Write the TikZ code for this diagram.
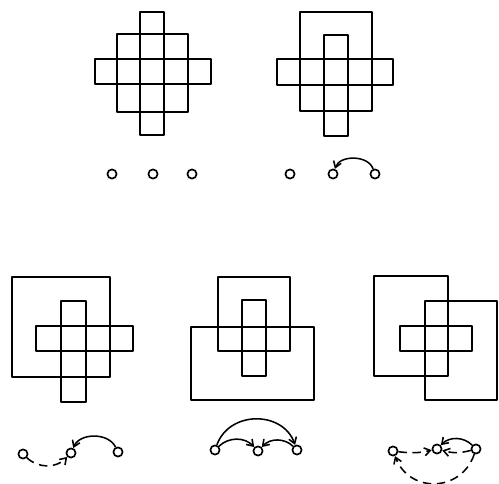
\documentclass[tikz,border=0pt]{standalone}
\usepackage{tikz}
\usetikzlibrary{positioning}
\usetikzlibrary{arrows.meta}

\begin{document}
\begin{tikzpicture}[x=0.5mm,y=0.5mm,line join=round,>={Straight Barb[length=3mm,width=4mm]},
    frame/.style={line width=2.8pt},
    spot/.style={circle,draw,line width=2.4pt,inner sep=0pt,minimum size=4.6mm},
    swap/.style={->,line width=2.2pt},
    slide/.style={swap,dash pattern=on 12pt off 8pt}]
    \useasboundingbox (0,0) rectangle (499,484);

    % top left
    \draw[frame] (117,450) rectangle (188,372);
    \draw[frame] (140,472) rectangle (164,349);
    \draw[frame] (95,425) rectangle (211,400);
    \node[spot] (a1) at (112,310) {};
    \node[spot] (a2) at (153,310) {};
    \node[spot] (a3) at (192,310) {};

    % top right
    \draw[frame] (300,472) rectangle (372,373);
    \draw[frame] (324,449) rectangle (348,348);
    \draw[frame] (277,425) rectangle (393,399);
    \node[spot] (b1) at (290,310) {};
    \node[spot] (b2) at (333,310) {};
    \node[spot] (b3) at (375,310) {};
    \draw[swap] (b3) to[bend right=70] (b2);

    % bottom left
    \draw[frame] (12,207) rectangle (110,107);
    \draw[frame] (61,183) rectangle (86,82);
    \draw[frame] (36,158) rectangle (133,133);
    \node[spot] (c1) at (23,30) {};
    \node[spot] (c2) at (71,31) {};
    \node[spot] (c3) at (118,32) {};
    \draw[slide] (c1) to[bend right=45] (c2);
    \draw[swap] (c3) to[bend right=65] (c2);

    % bottom middle
    \draw[frame] (218,207) rectangle (290,133);
    \draw[frame] (242,184) rectangle (266,108);
    \draw[frame] (191,157) rectangle (314,84);
    \node[spot] (d1) at (215,34) {};
    \node[spot] (d2) at (258,33) {};
    \node[spot] (d3) at (297,34) {};
    \draw[swap] (d1) to[bend left=70,looseness=1.2] (d3);
    \draw[swap] (d1) to[bend left=45] (d2);
    \draw[swap] (d3) to[bend right=45] (d2);

    % bottom right
    \draw[frame] (374,208) rectangle (448,108);
    \draw[frame] (425,183) rectangle (497,84);
    \draw[frame] (400,158) rectangle (472,133);
    \node[spot] (e1) at (393,33) {};
    \node[spot] (e2) at (437,35) {};
    \node[spot] (e3) at (476,35) {};
    \draw[swap] (e3) to[bend right=45] (e2);
    \draw[slide] (e3) to[bend left=15] (e2);
    \draw[slide] (e1) to[bend right=10] (e2);
    \draw[slide] (e3) to[bend left=70,looseness=1.3] (e1);
\end{tikzpicture}
\end{document}
